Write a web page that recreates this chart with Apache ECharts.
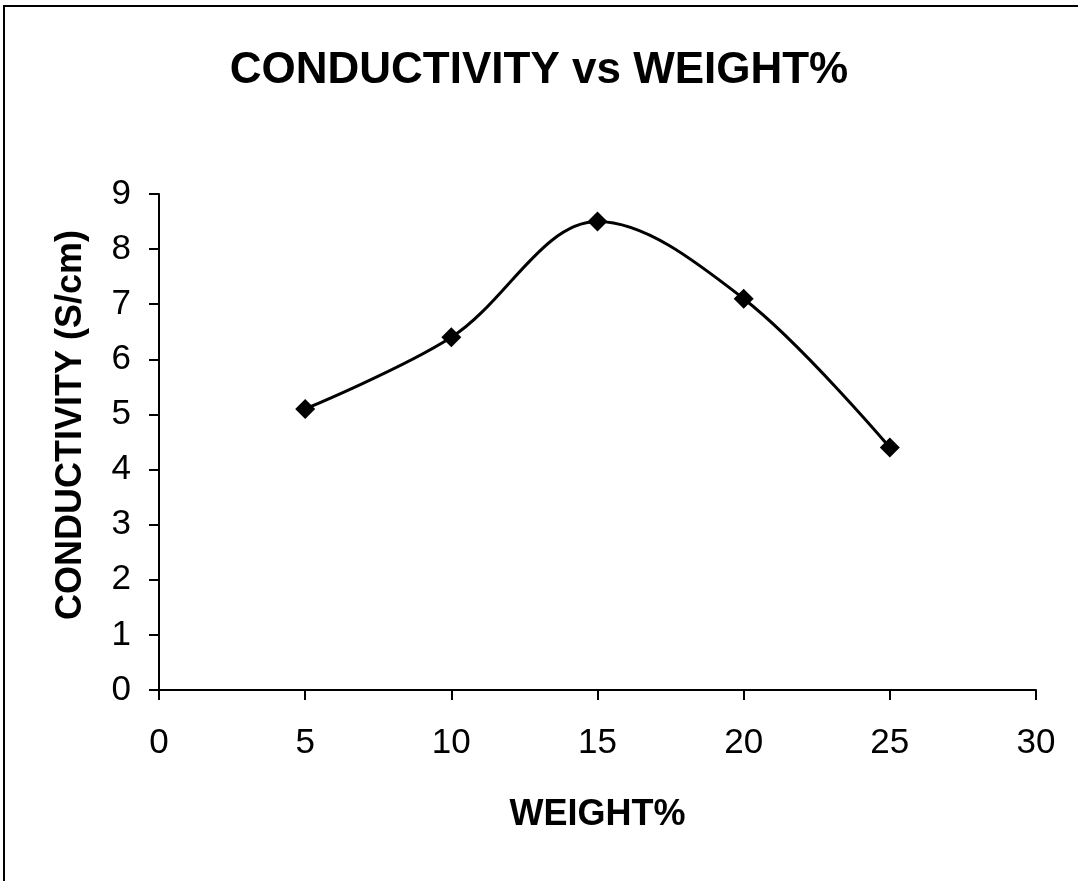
<!DOCTYPE html>
<html>
<head>
<meta charset="utf-8">
<style>
  html, body { margin: 0; padding: 0; background: #fff; }
  #chart { width: 1078px; height: 881px; }
</style>
<script src="https://cdn.jsdelivr.net/npm/echarts@6/dist/echarts.min.js"></script>
</head>
<body>
<div id="chart"></div>
<script>
// Weight percentage (x) and measured conductivity (y, S/cm)
const weightPct = [5, 10, 15, 20, 25];
const conductivity = [5.1, 6.4, 8.5, 7.1, 4.4];

const titleText = 'CONDUCTIVITY vs WEIGHT%';
const xAxisName = 'WEIGHT%';
const yAxisName = 'CONDUCTIVITY (S/cm)';

const points = weightPct.map((w, i) => [w, conductivity[i]]);

const fontFamily = '"Liberation Sans", Arial, sans-serif';

const chart = echarts.init(document.getElementById('chart'), null, { renderer: 'canvas' });
chart.setOption({
  backgroundColor: '#ffffff',
  animation: false,
  graphic: [{
    type: 'rect',
    shape: { x: 4, y: 6, width: 1200, height: 1200 },
    style: { fill: 'none', stroke: '#000', lineWidth: 2 }
  }],
  title: {
    text: titleText,
    left: 'center',
    top: 44,
    textStyle: { fontFamily, fontWeight: 'bold', fontSize: 44, color: '#000' }
  },
  grid: { left: 159, right: 42, top: 194, bottom: 191, containLabel: false },
  xAxis: {
    type: 'value',
    min: 0, max: 30, interval: 5,
    name: xAxisName,
    nameLocation: 'middle',
    nameGap: 107,
    nameTextStyle: { fontFamily, fontWeight: 'bold', fontSize: 36, color: '#000' },
    axisLine: { show: true, onZero: false, lineStyle: { color: '#000', width: 2 } },
    axisTick: { show: true, inside: false, length: 10, lineStyle: { color: '#000', width: 2 } },
    axisLabel: { margin: 36, fontFamily, fontSize: 35, color: '#000' },
    splitLine: { show: false }
  },
  yAxis: {
    type: 'value',
    min: 0, max: 9, interval: 1,
    name: yAxisName,
    nameLocation: 'middle',
    nameGap: 70,
    nameRotate: 90,
    nameTextStyle: { fontFamily, fontWeight: 'bold', fontSize: 36, color: '#000', padding: [0, 0, 0, 34] },
    axisLine: { show: true, lineStyle: { color: '#000', width: 2 } },
    axisTick: { show: true, inside: false, length: 10, lineStyle: { color: '#000', width: 2 } },
    axisLabel: { margin: 28, fontFamily, fontSize: 35, color: '#000' },
    splitLine: { show: false }
  },
  series: [{
    type: 'line',
    data: points,
    smooth: 0.35,
    symbol: 'diamond',
    symbolSize: 20,
    itemStyle: { color: '#000' },
    lineStyle: { color: '#000', width: 3 }
  }]
});
</script>
</body>
</html>
